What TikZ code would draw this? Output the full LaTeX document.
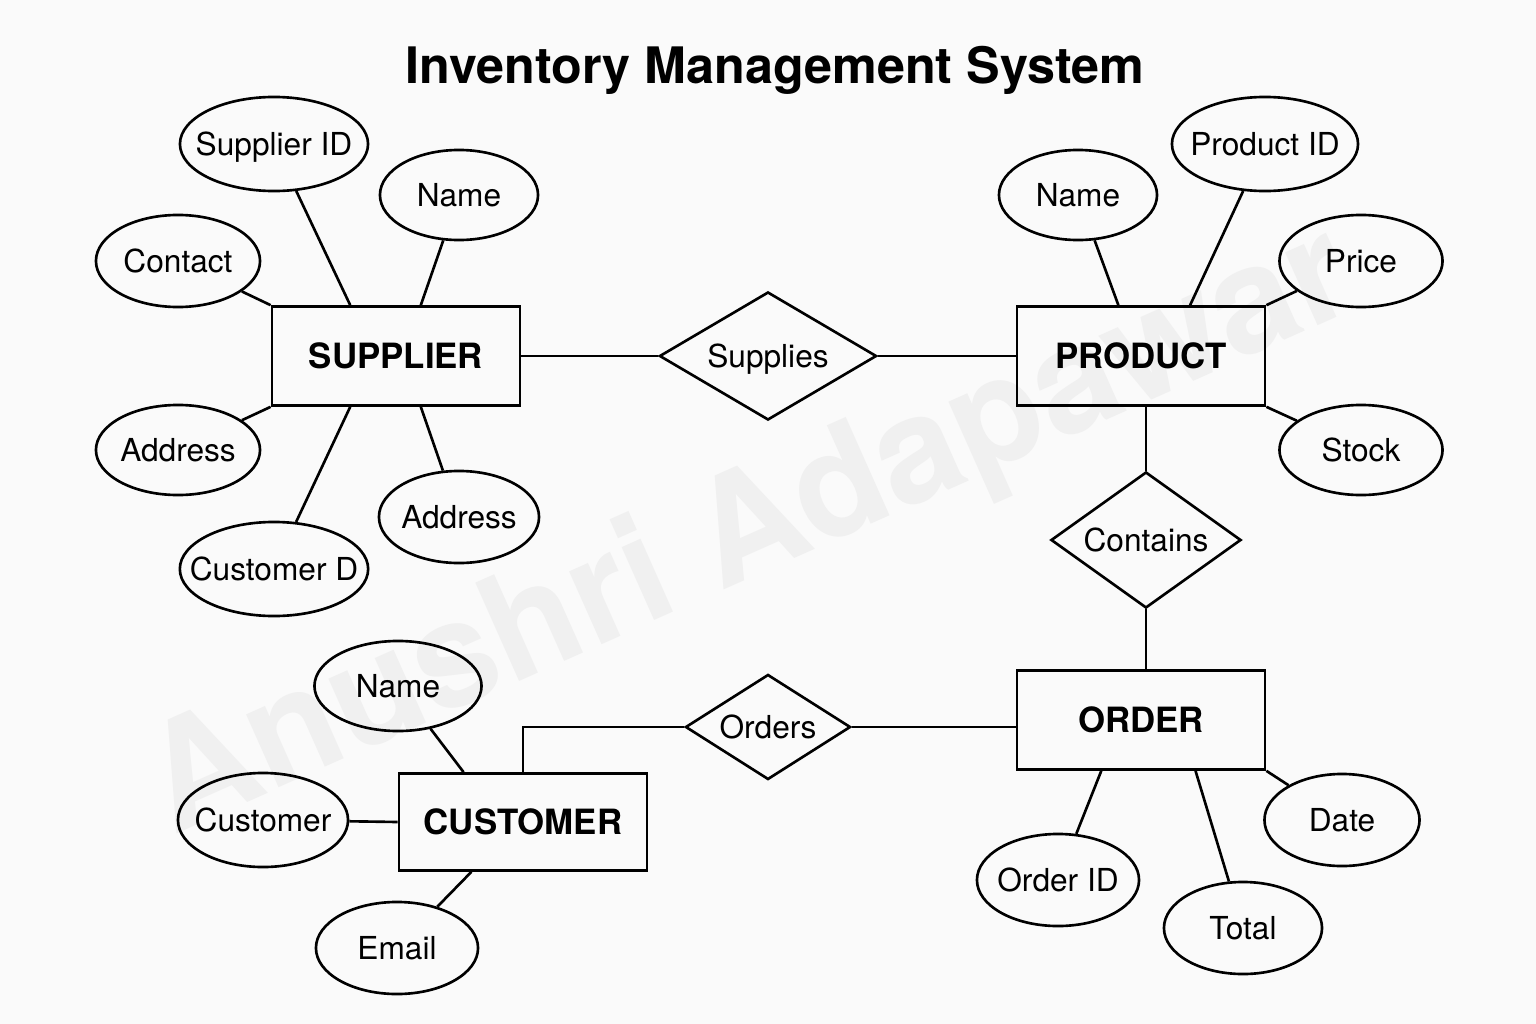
\documentclass[tikz,border=0pt]{standalone}
\usepackage{fontspec}
\setmainfont{TeX Gyre Heros}
\usetikzlibrary{shapes.geometric}
\begin{document}
\begin{tikzpicture}[x=0.01cm,y=-0.01cm,
	entity/.style={draw,line width=0.75pt,rectangle,inner sep=0pt,minimum width=2.48cm,minimum height=0.99cm,font=\fontsize{9.9}{12}\selectfont\bfseries},
	attr/.style={draw,line width=0.75pt,ellipse,inner xsep=-5pt,inner ysep=0pt,text depth=0pt,font=\fontsize{9}{11}\selectfont},
	rel/.style={draw,line width=0.75pt,diamond,inner sep=0pt,text depth=0pt,font=\fontsize{9}{11}\selectfont},
	link/.style={line width=0.75pt}]
	\fill[white!98!black] (0,0) rectangle (1536,1024);
	\node[rotate=24,text=black!6,font=\fontsize{42}{50}\selectfont\bfseries] (mark) at (752,535) {Anushri Adapawar};
	
	\node[font=\fontsize{14.3}{17}\selectfont\bfseries] (title) at (775,70) {Inventory Management System};
	
	\node[entity] (sup) at (396,356) {SUPPLIER};
	\node[entity] (prod) at (1141,356) {PRODUCT};
	\node[entity] (ord) at (1141,720) {ORDER};
	\node[entity,minimum height=0.97cm] (cust) at (523,822) {CUSTOMER};
	
	\node[rel,aspect=1.7,minimum width=2.17cm,minimum height=1.28cm] (supplies) at (768,356) {Supplies};
	\node[rel,aspect=1.4,minimum width=1.9cm,minimum height=1.36cm] (contains) at (1146,540) {Contains};
	\node[rel,aspect=1.6,minimum width=1.65cm,minimum height=1.05cm] (orders) at (768,727) {Orders};
	
	\node[attr,minimum width=1.88cm,minimum height=0.94cm] (supid) at (274,144) {Supplier ID};
	\node[attr,minimum width=1.58cm,minimum height=0.9cm] (supname) at (459,195) {Name};
	\node[attr,minimum width=1.64cm,minimum height=0.92cm] (supcontact) at (178,261) {Contact};
	\node[attr,minimum width=1.64cm,minimum height=0.9cm] (supaddr) at (178,450) {Address};
	\node[attr,minimum width=1.88cm,minimum height=0.94cm] (supcust) at (274,569) {Customer D};
	\node[attr,minimum width=1.6cm,minimum height=0.92cm] (supaddrb) at (459,517) {Address};
	
	\node[attr,minimum width=1.58cm,minimum height=0.9cm] (prodname) at (1078,195) {Name};
	\node[attr,minimum width=1.86cm,minimum height=0.94cm] (prodid) at (1265,144) {Product ID};
	\node[attr,minimum width=1.63cm,minimum height=0.92cm] (prodprice) at (1361,261) {Price};
	\node[attr,minimum width=1.63cm,minimum height=0.9cm] (prodstock) at (1361,450) {Stock};
	
	\node[attr,minimum width=1.67cm,minimum height=0.9cm] (custname) at (398,686) {Name};
	\node[attr,minimum width=1.7cm,minimum height=0.94cm] (custcust) at (263,820) {Customer};
	\node[attr,minimum width=1.62cm,minimum height=0.92cm] (custemail) at (397,948) {Email};
	
	\node[attr,minimum width=1.62cm,minimum height=0.92cm] (ordid) at (1058,880) {Order ID};
	\node[attr,minimum width=1.58cm,minimum height=0.92cm] (ordtotal) at (1243,928) {Total};
	\node[attr,minimum width=1.55cm,minimum height=0.92cm] (orddate) at (1342,820) {Date};
	
	\draw[link] (sup) -- (supplies);
	\draw[link] (supplies) -- (prod);
	\draw[link] (contains.north) -- (contains.north |- prod.south);
	\draw[link] (contains.south) -- (contains.south |- ord.north);
	\draw[link] (orders.east) -- (orders.east -| ord.west);
	\draw[link] (orders.west) -| (cust.north);
	
	\draw[link] (supid) -- (sup.132);
	\draw[link] (supname) -- (sup.64);
	\draw[link] (supcontact) -- (sup.north west);
	\draw[link] (supaddr) -- (sup.south west);
	\draw[link] (supcust) -- (sup.228);
	\draw[link] (supaddrb) -- (sup.296);
	
	\draw[link] (prodname) -- (prod.114);
	\draw[link] (prodid) -- (prod.46);
	\draw[link] (prodprice) -- (prod.north east);
	\draw[link] (prodstock) -- (prod.south east);
	
	\draw[link] (custname) -- (cust.140);
	\draw[link] (custcust) -- (cust.west);
	\draw[link] (custemail) -- (cust.224);
	
	\draw[link] (ordid) -- (ord.232);
	\draw[link] (ordtotal) -- (ord.317);
	\draw[link] (orddate) -- (ord.south east);
\end{tikzpicture}
\end{document}
